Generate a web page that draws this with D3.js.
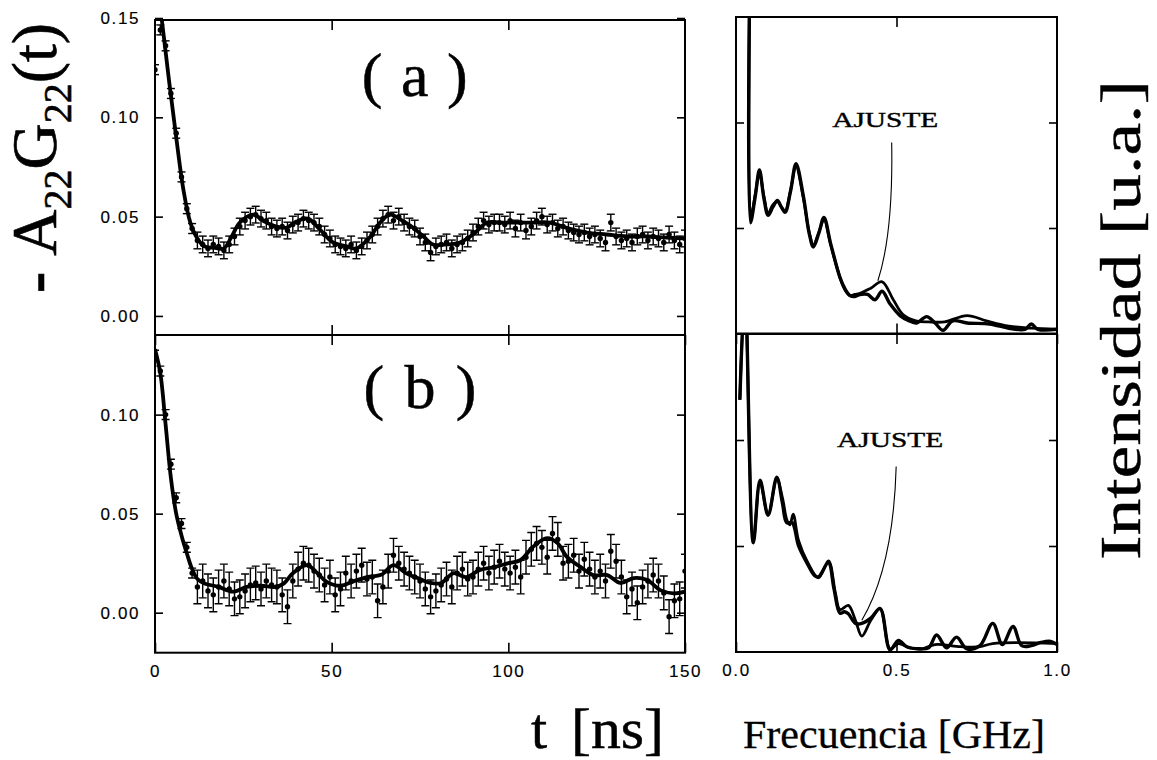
<!DOCTYPE html>
<html><head><meta charset="utf-8">
<script src="https://cdn.jsdelivr.net/npm/d3@7"></script>
<style>body{margin:0;background:#fff}svg{display:block}</style>
</head><body>
<svg id="c" width="1157" height="760"></svg>
<script>
// ---------------- DATA ----------------
// time axis (ns), measured points every 1.5 ns from 0 to 150
const timeRange = [0, 150];
// panel (a) measured -A22G22(t)
const dataA = [
 0.124,0.144,0.136,0.112,0.092,0.070,0.054,0.044,0.038,0.036,
 0.034,0.036,0.035,0.033,0.036,0.040,0.045,0.048,0.050,0.051,
 0.049,0.048,0.045,0.044,0.045,0.043,0.046,0.047,0.049,0.048,
 0.047,0.045,0.041,0.039,0.036,0.035,0.034,0.036,0.033,0.035,
 0.038,0.041,0.045,0.049,0.051,0.048,0.050,0.047,0.045,0.044,
 0.040,0.037,0.032,0.035,0.036,0.037,0.034,0.036,0.037,0.039,
 0.042,0.045,0.048,0.046,0.047,0.047,0.046,0.048,0.044,0.047,
 0.043,0.045,0.048,0.050,0.046,0.047,0.044,0.045,0.043,0.042,
 0.041,0.042,0.040,0.041,0.039,0.037,0.047,0.040,0.038,0.039,
 0.037,0.040,0.041,0.038,0.040,0.039,0.037,0.041,0.038,0.036,
 0.039];
// panel (b) measured -A22G22(t)
const dataB = [
 0.130,0.122,0.100,0.075,0.058,0.045,0.033,0.020,0.013,0.016,
 0.011,0.009,0.013,0.016,0.012,0.007,0.008,0.011,0.014,0.015,
 0.012,0.016,0.014,0.013,0.009,0.003,0.016,0.022,0.025,0.024,
 0.021,0.019,0.014,0.018,0.009,0.012,0.020,0.016,0.021,0.024,
 0.017,0.018,0.006,0.013,0.021,0.029,0.025,0.022,0.020,0.018,
 0.016,0.012,0.008,0.011,0.014,0.017,0.013,0.020,0.022,0.017,
 0.018,0.022,0.025,0.020,0.023,0.026,0.022,0.020,0.023,0.018,
 0.028,0.032,0.035,0.033,0.028,0.040,0.037,0.025,0.026,0.029,
 0.021,0.027,0.022,0.018,0.021,0.016,0.031,0.026,0.018,0.008,
 0.012,0.005,0.013,0.016,0.019,0.016,0.010,-0.002,0.006,0.007,
 0.021];
const errA = 0.0042, errB = 0.0085, errEarly = 0.0025;
// fitted curves [t, value]
const fitA = [[0,0.175],[2,0.148],[4,0.118],[6,0.090],[8,0.064],[10,0.047],[12,0.039],[14,0.035],
 [17,0.0343],[19.5,0.034],[21.7,0.040],[24,0.047],[27.8,0.051],[31,0.0475],[34.4,0.045],[37.3,0.0445],
 [40,0.0475],[43.3,0.049],[46.7,0.0434],[50.4,0.037],[54.3,0.035],[57,0.034],[61,0.040],[63.7,0.047],
 [66.5,0.051],[70,0.048],[73,0.0445],[76,0.040],[78.7,0.036],[82.6,0.036],[86.3,0.037],[90,0.041],
 [94,0.047],[97.6,0.047],[102.4,0.047],[107,0.047],[111.8,0.047],[116.5,0.0443],[122.2,0.042],
 [127.8,0.041],[133.5,0.040],[139.2,0.040],[144.8,0.0394],[150,0.039]];
const fitB = [[0,0.133],[1.5,0.121],[3,0.095],[4.5,0.068],[6,0.050],[7.5,0.039],[9,0.030],[10.5,0.022],
 [12,0.017],[14,0.0148],[18,0.013],[22,0.0106],[26,0.013],[30,0.0136],[34,0.013],[36.5,0.0148],
 [39,0.0199],[43,0.024],[46,0.0199],[48.5,0.0157],[52.5,0.0136],[56,0.0157],[60,0.018],[64,0.0191],
 [67.5,0.024],[71,0.020],[75,0.017],[78,0.015],[81,0.015],[84.5,0.020],[88,0.018],[92,0.0216],
 [96,0.023],[100,0.025],[103.5,0.0266],[107,0.0333],[111,0.0376],[114,0.035],[116.5,0.0283],
 [120.5,0.023],[124,0.019],[128,0.019],[131.7,0.015],[135.5,0.0175],[139.3,0.0165],[143,0.0114],
 [146.8,0.0098],[150,0.0106]];
// frequency spectra [GHz, intensity a.u.]
const specUpperData = [[0.043,3.4],[0.045,1.05],[0.06,1.3],[0.073,1.55],[0.087,1.28],[0.10,1.12],[0.115,1.2],
 [0.129,1.26],[0.141,1.2],[0.153,1.15],[0.17,1.35],[0.187,1.61],[0.21,1.3],[0.228,0.95],[0.241,0.82],
 [0.258,0.95],[0.274,1.10],[0.295,0.85],[0.324,0.53],[0.34,0.42],[0.355,0.36],[0.37,0.35],[0.386,0.37],
 [0.41,0.37],[0.433,0.32],[0.455,0.40],[0.48,0.28],[0.511,0.17],[0.54,0.12],[0.563,0.10],[0.594,0.16],
 [0.62,0.10],[0.645,0.03],[0.675,0.12],[0.72,0.10],[0.79,0.09],[0.85,0.05],[0.9,0.04],[0.92,0.09],
 [0.94,0.04],[1.0,0.04]];
const specUpperFit = [[0.043,3.4],[0.046,1.1],[0.06,1.32],[0.073,1.52],[0.087,1.3],[0.10,1.14],[0.115,1.22],
 [0.129,1.25],[0.141,1.2],[0.153,1.16],[0.17,1.36],[0.187,1.58],[0.21,1.28],[0.228,0.96],[0.241,0.84],
 [0.258,0.96],[0.274,1.08],[0.295,0.84],[0.324,0.53],[0.34,0.41],[0.355,0.36],[0.37,0.37],[0.386,0.38],
 [0.42,0.43],[0.455,0.49],[0.49,0.32],[0.52,0.18],[0.56,0.12],[0.6,0.11],[0.65,0.11],[0.72,0.17],
 [0.78,0.12],[0.85,0.07],[0.92,0.05],[1.0,0.04]];
const specLowerData = [[0.012,2.38],[0.028,3.4],[0.054,1.03],[0.075,1.62],[0.10,1.29],[0.127,1.65],
 [0.145,1.4],[0.158,1.22],[0.175,1.22],[0.195,1.0],[0.221,0.84],[0.245,0.72],[0.257,0.71],[0.288,0.84],
 [0.305,0.6],[0.324,0.365],[0.338,0.38],[0.35,0.36],[0.372,0.27],[0.392,0.27],[0.42,0.32],[0.449,0.41],
 [0.48,0.02],[0.506,0.11],[0.532,0.05],[0.573,0.03],[0.6,0.04],[0.625,0.16],[0.656,0.04],[0.687,0.14],
 [0.719,0.03],[0.76,0.06],[0.80,0.27],[0.83,0.07],[0.863,0.24],[0.89,0.06],[0.92,0.06],[0.95,0.09],
 [0.98,0.10],[1.0,0.07]];
const specLowerFit = [[0.012,2.38],[0.028,3.4],[0.054,1.05],[0.075,1.6],[0.10,1.3],[0.127,1.63],
 [0.145,1.45],[0.158,1.25],[0.168,1.2],[0.178,1.3],[0.195,1.05],[0.221,0.86],[0.257,0.70],[0.288,0.86],
 [0.31,0.55],[0.324,0.40],[0.35,0.44],[0.372,0.30],[0.392,0.15],[0.42,0.30],[0.449,0.41],[0.48,0.03],
 [0.506,0.08],[0.54,0.04],[0.58,0.03],[0.62,0.07],[0.7,0.05],[0.76,0.05],[0.8,0.08],[1.0,0.08]];
// ticks
const tTicks = [0, 50, 100, 150];
const yTicksA = [0, 0.05, 0.10, 0.15];
const yTicksB = [0, 0.05, 0.10];
const fTicks = [0, 0.5, 1.0];
const iTicks = [1, 2];

// ---------------- SCALES ----------------
const svg = d3.select("#c");
const xT = d3.scaleLinear(timeRange, [155, 685]);
const yA = d3.scaleLinear([-0.0096, 0.149], [335, 20]);
const yB = d3.scaleLinear([-0.0202, 0.1402], [652.7, 335]);
const xF = d3.scaleLinear([0, 1], [736, 1057]);
const yU = d3.scaleLinear([0, 3], [333.5, 17]);
const yL = d3.scaleLinear([0, 3], [652, 334]);

const sans = "'Liberation Sans', Arial, sans-serif";
const serif = "'Liberation Serif', 'Times New Roman', serif";

function clip(id, x, y) {
  const [x0, x1] = x.range(), [y0, y1] = [Math.min(...y.range()), Math.max(...y.range())];
  svg.append("clipPath").attr("id", id).append("rect")
    .attr("x", x0).attr("y", y0).attr("width", x1 - x0).attr("height", y1 - y0);
  return "url(#" + id + ")";
}

function frame(x, y) {
  const [x0, x1] = x.range(), ys = y.range();
  svg.append("rect").attr("x", x0).attr("y", Math.min(...ys))
    .attr("width", x1 - x0).attr("height", Math.abs(ys[0] - ys[1]))
    .attr("fill", "none").attr("stroke", "#000").attr("stroke-width", 2);
}

function axes(x, y, xt, yt, opts) {
  const g = svg.append("g").attr("font-family", sans);
  const [y0, y1] = y.range();
  const [x0, x1] = x.range();
  const left = d3.axisLeft(y).tickValues(yt).tickSize(-8).tickPadding(15)
    .tickFormat(opts.yLabels ? d3.format(".2f") : "");
  const right = d3.axisRight(y).tickValues(yt).tickSize(-8).tickFormat("");
  const bottom = d3.axisBottom(x).tickValues(xt).tickSize(-10).tickPadding(12)
    .tickFormat(opts.xLabels ? opts.xFmt : "");
  const top = d3.axisTop(x).tickValues(xt).tickSize(-10).tickFormat("");
  [[left, `translate(${x0},0)`], [right, `translate(${x1},0)`],
   [bottom, `translate(0,${y0})`], [top, `translate(0,${y1})`]].forEach(([ax, tr]) => {
    const a = g.append("g").attr("transform", tr).call(ax);
    a.select(".domain").remove();
    a.selectAll("line").attr("stroke-width", 1.6);
    a.selectAll("text").attr("fill", "#000").attr("letter-spacing", 1.6).attr("font-size", 17)
      .attr("stroke", "#000").attr("stroke-width", 0.15);
  });
}

function timePanel(data, fit, y, err, cid) {
  const cp = clip(cid, xT, y);
  const g = svg.append("g").attr("clip-path", cp);
  const pts = data.map((v, i) => [timeRange[0] + i * (timeRange[1] - timeRange[0]) / (data.length - 1), v]);
  pts.forEach(([t, v]) => {
    const e = t < 11 ? errEarly : err;
    const cx = xT(t);
    g.append("line").attr("x1", cx).attr("x2", cx).attr("y1", y(v - e)).attr("y2", y(v + e))
      .attr("stroke", "#000").attr("stroke-width", 1.4);
    [v - e, v + e].forEach(b => g.append("line").attr("x1", cx - 4).attr("x2", cx + 4)
      .attr("y1", y(b)).attr("y2", y(b)).attr("stroke", "#000").attr("stroke-width", 1.4));
    g.append("circle").attr("cx", cx).attr("cy", y(v)).attr("r", 2.7).attr("fill", "#000");
  });
  const line = d3.line().x(d => xT(d[0])).y(d => y(d[1])).curve(d3.curveCatmullRom.alpha(0.5));
  g.append("path").attr("d", line(fit)).attr("fill", "none").attr("stroke", "#000")
    .attr("stroke-width", 3.8).attr("stroke-linejoin", "round");
}

function specPanel(dat, fit, y, cid) {
  const cp = clip(cid, xF, y);
  const g = svg.append("g").attr("clip-path", cp);
  const line = d3.line().x(d => xF(d[0])).y(d => y(d[1])).curve(d3.curveCatmullRom.alpha(0.5));
  g.append("path").attr("d", line(fit)).attr("fill", "none").attr("stroke", "#000")
    .attr("stroke-width", 2.8).attr("stroke-linejoin", "round");
  g.append("path").attr("d", line(dat)).attr("fill", "none").attr("stroke", "#000")
    .attr("stroke-width", 3.4).attr("stroke-linejoin", "round");
}

// ---------------- DRAW ----------------
timePanel(dataA, fitA, yA, errA, "ca");
timePanel(dataB, fitB, yB, errB, "cb");
specPanel(specUpperData, specUpperFit, yU, "cu");
specPanel(specLowerData, specLowerFit, yL, "cl");

axes(xT, yA, [50, 100], yTicksA, {yLabels: true});
axes(xT, yB, tTicks, yTicksB, {yLabels: true, xLabels: true, xFmt: d3.format("d")});
axes(xF, yU, [0.5], iTicks, {});
axes(xF, yL, fTicks, iTicks, {xLabels: true, xFmt: d3.format(".1f")});

frame(xT, yA); frame(xT, yB); frame(xF, yU); frame(xF, yL);

// serif text helper (scanned print looks slightly heavy)
function serifText(sel, size, heavy) {
  return sel.attr("font-family", serif).attr("font-size", size)
    .attr("stroke", "#000").attr("stroke-width", heavy).attr("fill", "#000");
}

// panel labels
serifText(svg.append("text").attr("x", xT(58.5)).attr("y", yA(0.1105)), 62, 0.5)
  .attr("textLength", 106).text("( a )");
serifText(svg.append("text").attr("x", xT(59)).attr("y", yB(0.1035)), 62, 0.5)
  .attr("textLength", 113).text("( b )");

// AJUSTE annotations
function ajuste(y, lx, ly, p0, c, p1) {
  serifText(svg.append("text").attr("x", xF(lx)).attr("y", y(ly)).attr("text-anchor", "middle"), 22, 0.4)
    .attr("textLength", 106).attr("lengthAdjust", "spacingAndGlyphs").text("AJUSTE");
  const p = d3.path();
  p.moveTo(xF(p0[0]), y(p0[1]));
  p.quadraticCurveTo(xF(c[0]), y(c[1]), xF(p1[0]), y(p1[1]));
  svg.append("path").attr("d", p.toString()).attr("fill", "none").attr("stroke", "#000").attr("stroke-width", 1.1);
}
ajuste(yU, 0.465, 1.96, [0.485, 1.81], [0.49, 0.95], [0.442, 0.50]);
ajuste(yL, 0.48, 1.93, [0.499, 1.75], [0.49, 0.8], [0.392, 0.30]);

// axis titles
const yl = serifText(svg.append("text").attr("transform", "translate(56,158) rotate(-90)")
  .attr("text-anchor", "middle"), 64, 0.6);
yl.append("tspan").attr("font-weight", "bold").text("- ");
yl.append("tspan").text("A");
yl.append("tspan").attr("font-size", 40).attr("dy", 15).text("22");
yl.append("tspan").attr("dy", -15).text("G");
yl.append("tspan").attr("font-size", 40).attr("dy", 15).text("22");
yl.append("tspan").attr("dy", -15).text("(t)");

const tl = serifText(svg.append("text").attr("y", 748), 58, 0.5);
tl.append("tspan").attr("x", 531).text("t");
tl.append("tspan").attr("x", 571).attr("textLength", 93).attr("lengthAdjust", "spacingAndGlyphs").text("[ns]");
serifText(svg.append("text").attr("x", 743).attr("y", 748), 41, 0.3)
  .attr("textLength", 302).attr("lengthAdjust", "spacingAndGlyphs").text("Frecuencia [GHz]");
serifText(svg.append("text").attr("transform", "translate(1140,320) rotate(-90)").attr("text-anchor", "middle"), 58, 0.4)
  .attr("textLength", 480).attr("lengthAdjust", "spacingAndGlyphs").text("Intensidad [u.a.]");
</script>
</body></html>
